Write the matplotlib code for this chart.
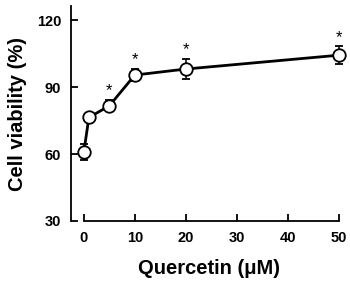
import matplotlib
matplotlib.use('Agg')
import matplotlib.pyplot as plt

plt.rcParams['font.family'] = ['Liberation Sans', 'DejaVu Sans']

conc = [0, 1, 5, 10, 20, 50]
viab = [60.8, 76.4, 81.6, 95.4, 98.1, 104.3]
err = [3.5, 1.5, 2.5, 2.8, 4.6, 3.9]
sig = [False, False, True, True, True, True]
xticks = [0, 10, 20, 30, 40, 50]
yticks = [30, 60, 90, 120]

fig = plt.figure(figsize=(3.5, 2.85), dpi=100)
ax = fig.add_axes([0.203, 0.2246, 0.787, 0.754])

ax.errorbar(conc, viab, yerr=err, color='black', lw=2.0, elinewidth=1.1,
            capsize=3, capthick=1.1, marker='o', ms=9, mfc='white',
            mec='black', mew=1.3, zorder=3)

# significance stars
for x, y, e, s in zip(conc, viab, err, sig):
    if s:
        ax.text(x, y + e + 0.8, '*', ha='center', va='bottom',
                fontsize=12)

ax.set_xlim(-2.5, 51.5)
ax.set_ylim(30, 126.3)
ax.set_xticks(xticks)
ax.set_yticks(yticks)
ax.spines['top'].set_visible(False)
ax.spines['right'].set_visible(False)
ax.spines['bottom'].set_bounds(0, 50)
for sp in ['left', 'bottom']:
    ax.spines[sp].set_linewidth(1.3)
ax.tick_params(direction='in', length=5, width=1.3, labelsize=10.5, pad=7)
for lab in ax.get_xticklabels() + ax.get_yticklabels():
    lab.set_fontweight('bold')

ax.set_ylabel('Cell viability (%)', fontsize=14.5, fontweight='bold', labelpad=7)
ax.set_xlabel('Quercetin (μM)', fontsize=14.5, fontweight='bold', labelpad=10)

fig.savefig('out.png', dpi=100)
